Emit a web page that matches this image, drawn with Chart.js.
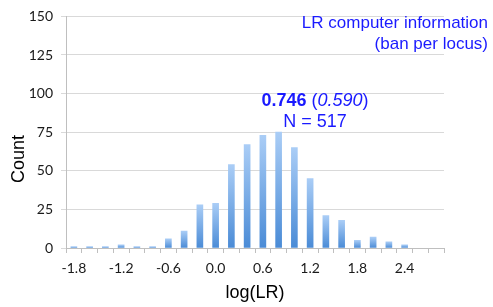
<!DOCTYPE html>
<html>
<head>
<meta charset="utf-8">
<script src="https://cdn.jsdelivr.net/npm/chart.js@4/dist/chart.umd.min.js"></script>
<style>
  html, body { margin: 0; padding: 0; background: #ffffff; }
  #wrap { position: relative; width: 493px; height: 307px; }
</style>
</head>
<body>
<div id="wrap"><canvas id="c" width="493" height="307"></canvas></div>
<script>
// ---- data ----
const categories = ["-1.8","-1.6","-1.4","-1.2","-1.0","-0.8","-0.6","-0.4","-0.2","0.0","0.2","0.4",
                    "0.6","0.8","1.0","1.2","1.4","1.6","1.8","2.0","2.2","2.4","2.6","2.8"];
const counts = [1,1,1,2,1,1,6,11,28,29,54,67,73,75,65,45,21,18,5,7,4,2,0,0];
const xTickLabels = ["-1.8","-1.2","-0.6","0.0","0.6","1.2","1.8","2.4"];
const yTicks = [0,25,50,75,100,125,150];
const xTitle = "log(LR)";
const yTitle = "Count";
const infoLines = ["LR computer information", "(ban per locus)"];
const statMain = "0.746";
const statAlt = "0.590";
const statN = "N = 517";

const BLUE = '#1a1aff';
const TOP_C = '#aacdf6';
const BOT_C = '#4a8bd6';

function barFill(ctx) {
  const chart = ctx.chart;
  if (!chart.chartArea || ctx.type !== 'data') return '#7aaee8';
  const y = chart.scales.y;
  const v = ctx.parsed ? ctx.parsed.y : 0;
  const top = y.getPixelForValue(v);
  const bot = y.getPixelForValue(0);
  if (!(bot - top > 0.5)) return 'rgba(0,0,0,0)';
  const g = chart.ctx.createLinearGradient(0, top, 0, bot);
  g.addColorStop(0, TOP_C);
  g.addColorStop(1, BOT_C);
  return g;
}

const textPlugin = {
  id: 'texts',
  afterDraw(chart) {
    const c = chart.ctx;
    c.save();
    // axis titles
    c.fillStyle = '#000000';
    c.font = '18px "Liberation Sans", Arial, sans-serif';
    c.textAlign = 'center';
    c.textBaseline = 'middle';
    c.fillText(xTitle, 255, 293);
    c.save();
    c.translate(19, 159);
    c.rotate(-Math.PI / 2);
    c.fillText(yTitle, 0, 0);
    c.restore();

    // info text (top right)
    c.fillStyle = BLUE;
    c.font = '17px "Liberation Sans", Arial, sans-serif';
    c.textAlign = 'right';
    c.fillText(infoLines[0], 488, 23);
    c.fillText(infoLines[1], 488, 44);

    // stats
    c.textAlign = 'left';
    const fB = 'bold 18px "Liberation Sans", Arial, sans-serif';
    const fN = '18px "Liberation Sans", Arial, sans-serif';
    const fI = 'italic 18px "Liberation Sans", Arial, sans-serif';
    c.font = fB; const w1 = c.measureText(statMain + ' ').width;
    c.font = fN; const w2 = c.measureText('(').width;
    c.font = fI; const w3 = c.measureText(statAlt).width;
    c.font = fN; const w4 = c.measureText(')').width;
    const total = w1 + w2 + w3 + w4;
    let x = 315 - total / 2;
    c.font = fB; c.fillText(statMain + ' ', x, 101); x += w1;
    c.font = fN; c.fillText('(', x, 101); x += w2;
    c.font = fI; c.fillText(statAlt, x, 101); x += w3;
    c.font = fN; c.fillText(')', x, 101);
    c.textAlign = 'center';
    c.font = fN;
    c.fillText(statN, 315, 122);
    c.restore();
  }
};

new Chart(document.getElementById('c'), {
  type: 'bar',
  data: {
    labels: categories,
    datasets: [{
      data: counts.map(v => (v === 0 ? null : v)),
      backgroundColor: barFill,
      borderWidth: 0,
      barThickness: 6
    }]
  },
  options: {
    responsive: false,
    animation: false,
    devicePixelRatio: 1,
    layout: { padding: { left: 0, right: 49, top: 14, bottom: 0 } },
    plugins: { legend: { display: false }, tooltip: { enabled: false }, title: { display: false } },
    scales: {
      x: {
        offset: true,
        afterFit(scale) { scale.height = 59; },
        border: { display: true, color: '#bfbfbf', width: 1 },
        grid: { display: true, drawOnChartArea: false, drawTicks: true, tickLength: 5, offset: true, color: '#bfbfbf' },
        ticks: {
          autoSkip: false, maxRotation: 0, minRotation: 0, padding: 7,
          color: '#1a1a1a',
          font: { family: 'Lato, "Open Sans", sans-serif', size: 14 },
          callback(value, index) {
            const lab = categories[index];
            return xTickLabels.includes(lab) ? lab : '';
          }
        }
      },
      y: {
        min: 0, max: 150,
        afterFit(scale) { scale.width = 66; },
        afterBuildTicks(scale) { scale.ticks = yTicks.map(v => ({ value: v })); },
        border: { display: true, color: '#bfbfbf', width: 1 },
        grid: { color: '#d9d9d9', drawTicks: true, tickLength: 5, lineWidth: 1 },
        ticks: {
          padding: 8,
          color: '#1a1a1a',
          font: { family: 'Lato, "Open Sans", sans-serif', size: 14 }
        }
      }
    }
  },
  plugins: [textPlugin]
});
</script>
</body>
</html>
